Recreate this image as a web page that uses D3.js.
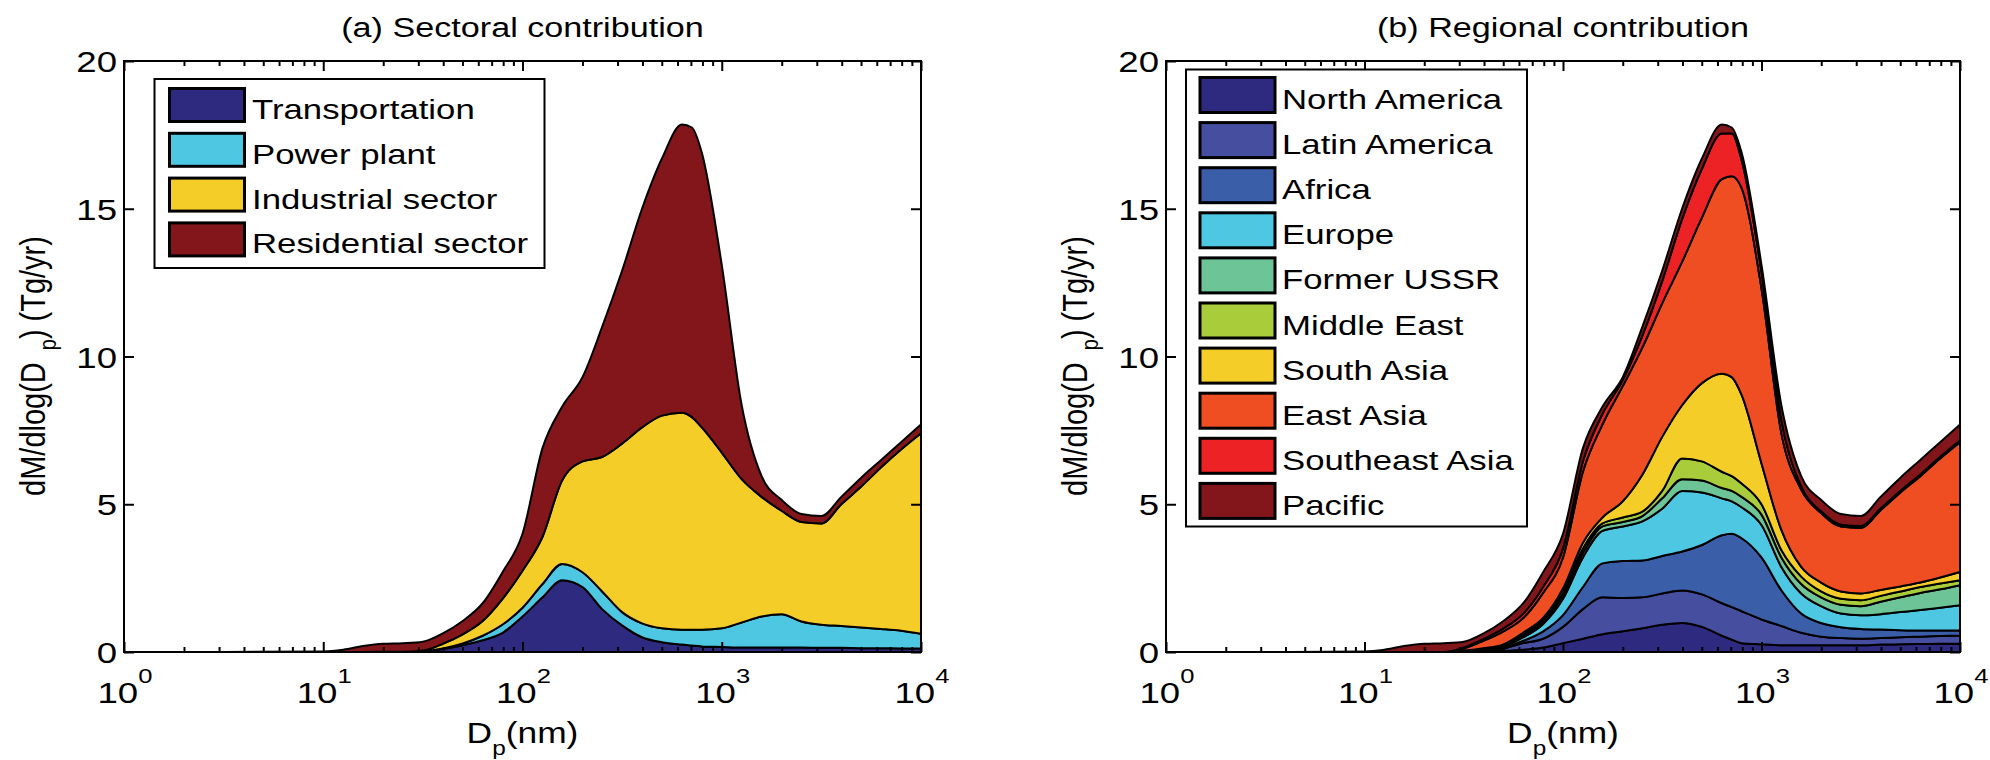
<!DOCTYPE html>
<html>
<head>
<meta charset="utf-8">
<script src="https://cdnjs.cloudflare.com/ajax/libs/d3/7.8.5/d3.min.js"></script>
<style>
  body { margin: 0; background: #fff; }
</style>
</head>
<body>
<div id="vis"></div>
<script>
// particle diameter (nm), shared by both panels
const diameters = [1, 3.2, 10, 12.6, 15.8, 20, 25.1, 31.6, 39.8, 50.1, 63.1, 79.4, 100, 126, 158, 200, 251, 316, 398, 501, 631, 708, 794, 1000, 1259, 1585, 1995, 2512, 3162, 3981, 5012, 6310, 7943, 10000];

// (a) sectoral contribution, dM/dlog(Dp) in Tg/yr
const transportation = [0, 0, 0, 0, 0, 0.01, 0.01, 0.02, 0.1, 0.23, 0.4, 0.65, 1.2, 1.85, 2.43, 2.2, 1.45, 0.9, 0.5, 0.33, 0.25, 0.22, 0.19, 0.17, 0.15, 0.15, 0.15, 0.15, 0.14, 0.14, 0.13, 0.13, 0.12, 0.12];
const powerPlant = [0, 0, 0, 0, 0, 0, 0, 0.01, 0.02, 0.06, 0.15, 0.28, 0.3, 0.45, 0.55, 0.5, 0.6, 0.45, 0.47, 0.47, 0.5, 0.53, 0.56, 0.63, 0.85, 1.05, 1.13, 0.88, 0.78, 0.74, 0.7, 0.65, 0.6, 0.5];
const industrial = [0, 0, 0, 0, 0, 0, 0, 0.02, 0.16, 0.31, 0.5, 0.87, 1.25, 1.6, 2.82, 3.75, 4.55, 5.7, 6.63, 7.2, 7.35, 7.2, 6.85, 5.95, 4.85, 4.05, 3.5, 3.37, 3.43, 4.12, 4.77, 5.47, 6.13, 6.78];
const residential = [0, 0, 0.02, 0.08, 0.2, 0.27, 0.29, 0.3, 0.35, 0.45, 0.6, 0.9, 1.25, 3.0, 2.5, 2.85, 4.4, 5.85, 7.4, 8.7, 9.75, 9.8, 9.3, 6.35, 2.5, 0.7, 0.37, 0.27, 0.25, 0.25, 0.3, 0.25, 0.25, 0.3];

// (b) regional contribution
const northAmerica = [0, 0, 0, 0, 0, 0, 0, 0.01, 0.02, 0.04, 0.08, 0.15, 0.3, 0.45, 0.6, 0.7, 0.8, 0.92, 0.98, 0.85, 0.55, 0.42, 0.3, 0.26, 0.23, 0.23, 0.23, 0.23, 0.23, 0.25, 0.26, 0.27, 0.28, 0.28];
const latinAmerica = [0, 0, 0, 0, 0, 0, 0, 0.01, 0.03, 0.08, 0.22, 0.3, 0.55, 1.0, 1.25, 1.13, 1.05, 1.06, 1.1, 1.1, 1.1, 1.1, 1.08, 0.84, 0.65, 0.42, 0.29, 0.24, 0.22, 0.22, 0.24, 0.25, 0.26, 0.28];
const africa = [0, 0, 0, 0, 0, 0, 0, 0.01, 0.03, 0.04, 0.08, 0.25, 0.4, 0.75, 1.15, 1.25, 1.25, 1.27, 1.32, 1.67, 2.3, 2.48, 2.47, 2.1, 1.21, 0.65, 0.46, 0.37, 0.33, 0.29, 0.24, 0.21, 0.19, 0.17];
const europe = [0, 0, 0, 0, 0, 0, 0, 0.01, 0.02, 0.04, 0.12, 0.25, 0.55, 1.0, 1.1, 1.17, 1.32, 1.6, 2.05, 1.78, 1.25, 1.1, 1.05, 1.1, 0.79, 0.68, 0.57, 0.46, 0.46, 0.52, 0.61, 0.69, 0.77, 0.85];
const formerUSSR = [0, 0, 0, 0, 0, 0, 0, 0, 0.01, 0.02, 0.05, 0.07, 0.1, 0.15, 0.15, 0.15, 0.18, 0.35, 0.4, 0.4, 0.35, 0.35, 0.35, 0.35, 0.32, 0.32, 0.3, 0.3, 0.31, 0.42, 0.5, 0.58, 0.62, 0.68];
const middleEast = [0, 0, 0, 0, 0, 0, 0, 0, 0.01, 0.02, 0.05, 0.06, 0.1, 0.15, 0.1, 0.15, 0.15, 0.25, 0.7, 0.65, 0.55, 0.5, 0.45, 0.35, 0.25, 0.25, 0.2, 0.2, 0.2, 0.2, 0.2, 0.2, 0.2, 0.17];
const southAsia = [0, 0, 0, 0, 0, 0, 0, 0.01, 0.01, 0.02, 0.06, 0.07, 0.15, 0.2, 0.2, 0.55, 1.25, 1.83, 1.8, 2.65, 3.32, 3.35, 3.0, 1.38, 0.68, 0.33, 0.3, 0.25, 0.23, 0.2, 0.17, 0.15, 0.2, 0.28];
const eastAsia = [0, 0, 0, 0, 0, 0, 0, 0.07, 0.25, 0.44, 0.49, 0.85, 1.05, 2.4, 3.15, 3.9, 4.3, 4.52, 4.85, 5.6, 6.58, 6.8, 7.0, 5.92, 3.27, 2.62, 2.35, 2.2, 2.22, 2.7, 3.18, 3.6, 4.03, 4.39];
const southeastAsia = [0, 0, 0, 0, 0, 0, 0, 0.03, 0.06, 0.1, 0.15, 0.2, 0.3, 0.35, 0.35, 0.2, 0.4, 0.75, 1.45, 1.65, 1.55, 1.45, 0.95, 0.55, 0.45, 0.1, 0.06, 0.06, 0.06, 0.06, 0.06, 0.06, 0.06, 0.06];
const pacific = [0, 0, 0.02, 0.08, 0.2, 0.28, 0.3, 0.2, 0.19, 0.25, 0.35, 0.5, 0.5, 0.45, 0.25, 0.1, 0.3, 0.35, 0.35, 0.35, 0.3, 0.2, 0.25, 0.25, 0.5, 0.35, 0.39, 0.36, 0.34, 0.39, 0.44, 0.49, 0.49, 0.54];

const sectorNames = ["Transportation", "Power plant", "Industrial sector", "Residential sector"];
const sectorColors = ["#2e2a7f", "#4ec8e2", "#f5cd28", "#83161a"];
const regionNames = ["North America", "Latin America", "Africa", "Europe", "Former USSR", "Middle East", "South Asia", "East Asia", "Southeast Asia", "Pacific"];
const regionColors = ["#2e2a7f", "#464f9f", "#3a5ea8", "#4ec8e2", "#6cc497", "#a9cd3a", "#f5cd28", "#ef4e23", "#ec2225", "#83161a"];

const yTicks = [0, 5, 10, 15, 20];
const xDecades = [1, 10, 100, 1000, 10000];

const font = '"Liberation Sans", Arial, Helvetica, sans-serif';
const stretch = 1.22;   // the original figure is a bit wider than tall

const svg = d3.select("#vis").append("svg")
    .attr("width", 1990)
    .attr("height", 760)
    .style("font-family", font);

function drawPanel(cfg) {
    var x = d3.scaleLog().domain([1, 10000]).range([cfg.left, cfg.right]);
    var y = d3.scaleLinear().domain([0, 20]).range([652, 61]);
    var g = svg.append("g");

    var rows = diameters.map(function (d, i) {
        var r = { d: d };
        cfg.names.forEach(function (n, k) { r[n] = cfg.series[k][i]; });
        return r;
    });
    var stacked = d3.stack().keys(cfg.names)(rows);

    var area = d3.area()
        .x(function (d) { return x(d.data.d); })
        .y0(function (d) { return y(d[0]); })
        .y1(function (d) { return y(d[1]); })
        .curve(d3.curveMonotoneX);

    g.selectAll("path.layer")
        .data(stacked)
        .enter()
        .append("path")
        .attr("class", "layer")
        .attr("d", area)
        .attr("fill", function (d, i) { return cfg.colors[i]; })
        .attr("stroke", "#000")
        .attr("stroke-width", 2)
        .attr("stroke-linejoin", "round");

    // ticks point inwards on all four sides
    var minor = x.ticks().filter(function (t) { return xDecades.indexOf(t) < 0; });
    function clean(sel) {
        sel.select(".domain").remove();
        sel.selectAll("line").attr("stroke", "#000").attr("stroke-width", 2);
    }
    g.append("g").attr("transform", "translate(0,652)")
        .call(d3.axisBottom(x).tickValues(xDecades).tickSize(-10).tickFormat("")).call(clean);
    g.append("g").attr("transform", "translate(0,652)")
        .call(d3.axisBottom(x).tickValues(minor).tickSize(-5).tickFormat("")).call(clean);
    g.append("g").attr("transform", "translate(0,61)")
        .call(d3.axisTop(x).tickValues(xDecades).tickSize(-10).tickFormat("")).call(clean);
    g.append("g").attr("transform", "translate(0,61)")
        .call(d3.axisTop(x).tickValues(minor).tickSize(-5).tickFormat("")).call(clean);
    g.append("g").attr("transform", "translate(" + cfg.left + ",0)")
        .call(d3.axisLeft(y).tickValues(yTicks).tickSize(-10).tickFormat("")).call(clean);
    g.append("g").attr("transform", "translate(" + cfg.right + ",0)")
        .call(d3.axisRight(y).tickValues(yTicks).tickSize(-10).tickFormat("")).call(clean);

    g.append("rect")
        .attr("x", cfg.left).attr("y", 61)
        .attr("width", cfg.right - cfg.left).attr("height", 591)
        .attr("fill", "none").attr("stroke", "#000").attr("stroke-width", 2);

    // y tick labels
    g.selectAll("text.ylab").data(yTicks).enter()
        .append("text").attr("class", "ylab")
        .attr("transform", function (d) { return "translate(" + (cfg.left - 7) + "," + (y(d) + 11) + ") scale(" + stretch + ",1)"; })
        .attr("text-anchor", "end")
        .style("font-size", "30px")
        .text(function (d) { return d; });

    // x tick labels 10^n
    var xl = g.selectAll("text.xlab").data(xDecades).enter()
        .append("text").attr("class", "xlab")
        .attr("transform", function (d) { return "translate(" + (x(d) + 1) + ",703) scale(" + stretch + ",1)"; })
        .attr("text-anchor", "middle")
        .style("font-size", "30px");
    xl.append("tspan").text("10");
    xl.append("tspan").attr("dy", -20).style("font-size", "21px")
        .text(function (d) { return Math.round(Math.log10(d)); });

    var cx = (cfg.left + cfg.right) / 2;

    // title
    g.append("text")
        .attr("transform", "translate(" + cx + ",37) scale(" + stretch + ",1)")
        .attr("text-anchor", "middle")
        .style("font-size", "28px")
        .text(cfg.title);

    // x axis label
    var xt = g.append("text")
        .attr("transform", "translate(" + cx + ",743) scale(" + stretch + ",1)")
        .attr("text-anchor", "middle")
        .style("font-size", "29px");
    xt.append("tspan").text("D");
    xt.append("tspan").attr("dy", 12).style("font-size", "20px").text("p");
    xt.append("tspan").attr("dy", -12).text("(nm)");

    // y axis label
    var yt = g.append("text")
        .attr("transform", "translate(" + (cfg.left - 79) + ",366) scale(" + stretch + ",1) rotate(-90)")
        .attr("text-anchor", "middle")
        .style("font-size", "29px");
    yt.append("tspan").text("dM/dlog(D");
    yt.append("tspan").attr("dx", 12).attr("dy", 9).style("font-size", "20px").text("p");
    yt.append("tspan").attr("dy", -9).text(") (Tg/yr)");

    // legend
    var lg = cfg.legend;
    g.append("rect")
        .attr("x", lg.x).attr("y", lg.y).attr("width", lg.w).attr("height", lg.h)
        .attr("fill", "#fff").attr("stroke", "#000").attr("stroke-width", 2);
    var item = g.selectAll("g.item").data(cfg.names).enter()
        .append("g").attr("class", "item")
        .attr("transform", function (d, i) { return "translate(0," + (lg.sy + i * lg.step) + ")"; });
    item.append("rect")
        .attr("x", lg.sx).attr("y", 0).attr("width", lg.sw).attr("height", lg.sh)
        .attr("fill", function (d, i) { return cfg.colors[i]; })
        .attr("stroke", "#000").attr("stroke-width", 3);
    item.append("text")
        .attr("transform", "translate(" + lg.tx + "," + (lg.sh / 2 + 14) + ") scale(" + stretch + ",1)")
        .style("font-size", "28.5px")
        .text(function (d) { return d; });
}

drawPanel({
    left: 124, right: 921,
    title: "(a) Sectoral contribution",
    names: sectorNames,
    colors: sectorColors,
    series: [transportation, powerPlant, industrial, residential],
    legend: { x: 154.5, y: 79, w: 390, h: 189, sx: 169.5, sy: 88.5, step: 44.8, sw: 75, sh: 33, tx: 252 }
});

drawPanel({
    left: 1166, right: 1960,
    title: "(b) Regional contribution",
    names: regionNames,
    colors: regionColors,
    series: [northAmerica, latinAmerica, africa, europe, formerUSSR, middleEast, southAsia, eastAsia, southeastAsia, pacific],
    legend: { x: 1186, y: 69.5, w: 341, h: 457, sx: 1200, sy: 77.5, step: 45.1, sw: 75, sh: 35, tx: 1282 }
});
</script>
</body>
</html>
